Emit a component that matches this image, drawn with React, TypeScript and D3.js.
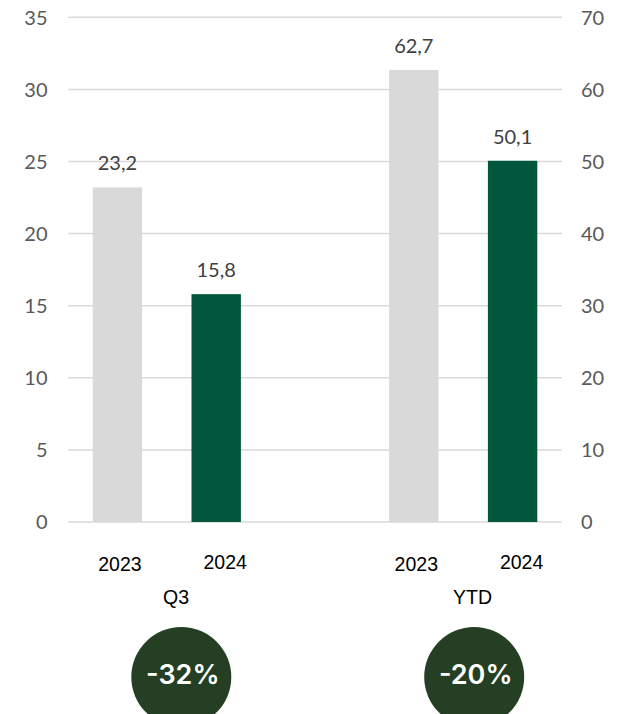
import React from "react";
import * as d3 from "d3";

const groups = ["Q3", "YTD"];
const years = ["2023", "2024"];
const q3Values = [23.2, 15.8];
const ytdValues = [62.7, 50.1];
const leftTicks = [0, 5, 10, 15, 20, 25, 30, 35];
const rightTicks = [0, 10, 20, 30, 40, 50, 60, 70];
const changes = ["-32%", "-20%"];

const W = 621;
const H = 714;
const slots = ["Q3-2023", "Q3-2024", "gap", "YTD-2023", "YTD-2024"];

export default function App() {
  const x = d3
    .scaleBand<string>()
    .domain(slots)
    .range([68, 562])
    .paddingInner(0.5)
    .paddingOuter(0.25);
  const yL = d3.scaleLinear().domain([0, 35]).range([522, 17.3]);
  const yR = d3.scaleLinear().domain([0, 70]).range([522, 17.3]);
  const bw = x.bandwidth();
  const fmt = (v: number) => d3.format(".1f")(v).replace(".", ",");
  const colors = ["#D9D9D9", "#00573B"];

  const bars = [
    ...q3Values.map((v, i) => ({ key: `Q3-${years[i]}`, v, y: yL, i, g: 0 })),
    ...ytdValues.map((v, i) => ({ key: `YTD-${years[i]}`, v, y: yR, i, g: 1 })),
  ];
  const yearDx = [2.5, 9];
  const yearBase = [570.7, 569];
  const cx = (k: string) => (x(k) as number) + bw / 2;
  const groupCenter = (g: string) => (cx(`${g}-2023`) + cx(`${g}-2024`)) / 2;
  const circleDx = [14.5, 11];

  return (
    <svg
      width={W}
      height={H}
      style={{ position: "absolute", left: 0, top: 0, background: "#fff" }}
    >
      {leftTicks.map((t) => (
        <line
          key={"g" + t}
          x1={68}
          x2={562}
          y1={yL(t)}
          y2={yL(t)}
          stroke="#D9D9D9"
          strokeWidth={1.5}
        />
      ))}
      {leftTicks.map((t) => (
        <text
          key={"l" + t}
          x={47.5}
          y={yL(t) + 7.2}
          textAnchor="end"
          fontFamily="Lato"
          fontSize={20}
          fill="#595959"
        >
          {t}
        </text>
      ))}
      {rightTicks.map((t) => (
        <text
          key={"r" + t}
          x={581}
          y={yR(t) + 7.2}
          textAnchor="start"
          fontFamily="Lato"
          fontSize={20}
          fill="#595959"
        >
          {t}
        </text>
      ))}
      {bars.map((b) => (
        <g key={b.key}>
          <rect
            x={x(b.key)}
            y={b.y(b.v)}
            width={bw}
            height={b.y(0) - b.y(b.v)}
            fill={colors[b.i]}
          />
          <text
            x={cx(b.key)}
            y={b.y(b.v) - 17}
            textAnchor="middle"
            fontFamily="Lato"
            fontSize={20}
            fill="#404040"
          >
            {fmt(b.v)}
          </text>
          <text
            x={cx(b.key) + yearDx[b.i]}
            y={yearBase[b.i]}
            textAnchor="middle"
            fontFamily="Liberation Sans"
            fontSize={19.5}
            fill="#000"
          >
            {years[b.i]}
          </text>
        </g>
      ))}
      {groups.map((g, gi) => (
        <g key={g}>
          <text
            x={groupCenter(g) + 9.3}
            y={604}
            textAnchor="middle"
            fontFamily="Liberation Sans"
            fontSize={19.5}
            fill="#000"
          >
            {g}
          </text>
          <circle
            cx={groupCenter(g) + circleDx[gi]}
            cy={677}
            r={50}
            fill="#243F24"
          />
          <text
            x={groupCenter(g) + circleDx[gi] + 1.5}
            y={684}
            textAnchor="middle"
            fontFamily="Inter"
            fontWeight={600}
            fontSize={27}
            fill="#fff"
          >
            {changes[gi]}
          </text>
        </g>
      ))}
    </svg>
  );
}
